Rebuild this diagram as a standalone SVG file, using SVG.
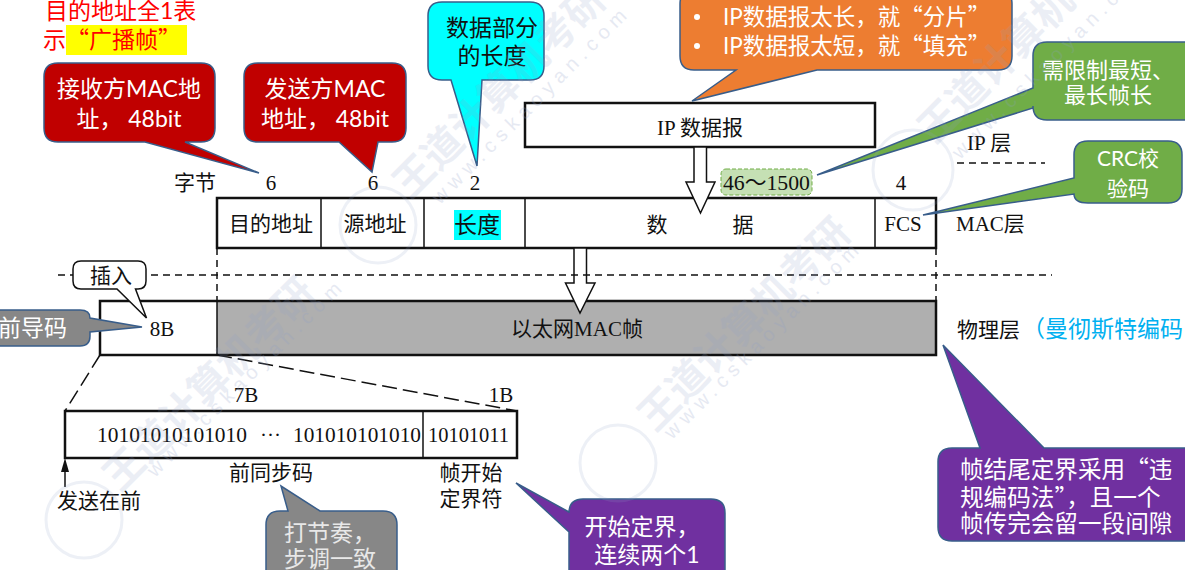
<svg xmlns="http://www.w3.org/2000/svg" width="1185" height="570" viewBox="0 0 1185 570">
<style>
text{font-family:"Liberation Serif","Noto Sans CJK SC",serif;font-size:21px;fill:#111}
.m{text-anchor:middle}
.q{font-family:"Noto Sans CJK SC",sans-serif}
.c text{font-family:Lato,"Noto Sans CJK SC",sans-serif;font-size:23px;fill:#fff}
.c .q{font-family:"Noto Sans CJK SC",sans-serif}
.c path{stroke:#385d8a;stroke-width:1.5}
.red{fill:#c00000}.cy{fill:#00ffff}.or{fill:#ed7d31}.gr{fill:#70ad47}.gy{fill:#878787}.pu{fill:#7030a0}
.box{fill:#fff;stroke:#111;stroke-width:2.5}
.div{stroke:#111;stroke-width:1.5;fill:none}
.dash{stroke:#111;stroke-width:1.5;fill:none;stroke-dasharray:7 5}
.dash2{stroke:#111;stroke-width:1.5;fill:none;stroke-dasharray:15 6}
.hollow{fill:#fff;stroke:#111;stroke-width:1.5}
.wm text{font-family:"Noto Sans CJK SC",sans-serif;font-weight:700;font-size:40px;fill:#8fa0c8;opacity:.17}
.wm .u{font-family:"Liberation Sans",sans-serif;font-weight:400;font-size:20px;letter-spacing:6px;opacity:.22}
.wm circle{fill:none;stroke:#8fa0c8;stroke-width:3;opacity:.16}
</style>

<g id="frame-mac">
<rect class="box" x="217" y="198" width="719" height="50"/>
<path class="div" d="M321 198V248M424 198V248M525 198V248M875 198V248"/>
<rect x="454" y="210" width="47" height="30" fill="#00ffff"/>
<text class="m" x="271" y="231">目的地址</text>
<text class="m" x="375" y="231">源地址</text>
<text class="m" x="477" y="233" style="font-size:23px">长度</text>
<text class="m" x="657" y="232">数</text>
<text class="m" x="743" y="232">据</text>
<text class="m" x="903" y="231">FCS</text>
</g>

<g id="frame-ip">
<rect class="box" x="525" y="103" width="350" height="44"/>
<text class="m" x="700" y="135">IP 数据报</text>
</g>

<g id="frame-phy">
<rect x="217" y="301" width="719" height="54" fill="#afafaf"/>
<rect x="100" y="301" width="836" height="54" fill="none" stroke="#111" stroke-width="2.5"/>
<path class="div" d="M217 301V355"/>
<text class="m" x="162" y="336">8B</text>
<text class="m" x="577" y="336">以太网MAC帧</text>
</g>

<g id="frame-preamble">
<rect class="box" x="65" y="411" width="452" height="47"/>
<path class="div" d="M423 411V458"/>
<text x="97" y="442" textLength="150" lengthAdjust="spacingAndGlyphs">10101010101010</text>
<text x="260" y="442">···</text>
<text x="293" y="442" textLength="128" lengthAdjust="spacingAndGlyphs">101010101010</text>
<text x="428" y="442" textLength="81" lengthAdjust="spacingAndGlyphs">10101011</text>
</g>

<g id="connectors">
<path class="hollow" d="M694 147V182H686L700.500 213L715 182H706.500V147Z"/>
<path class="hollow" d="M574 248V283H565.500L580 313L595 283H586.500V248Z"/>
<path class="dash" d="M58 275H73M151 275H1052"/>
<path class="dash" d="M217 248V301M936 248V301"/>
<path class="dash" d="M957 163H1045"/>
<path class="dash2" d="M100 355L65 411M217 355L517 411"/>
<path d="M65 487V462" stroke="#111" stroke-width="1.500" fill="none"/>
<path d="M65 458L61 472H69Z" fill="#111"/>
</g>

<g id="labels">
<text x="45" y="19" style="font-family:Lato,'Noto Sans CJK SC',sans-serif;font-size:23px;fill:#ff0000">目的地址全1表</text>
<rect x="66" y="25" width="121" height="30" fill="#ffff00"/>
<text x="43" y="48" style="font-family:Lato,'Noto Sans CJK SC',sans-serif;font-size:23px;fill:#ff0000">示</text>
<text class="q" x="66" y="48" style="font-size:23px;fill:#ff0000">“广播帧”</text>
<text x="174" y="190">字节</text>
<text class="m" x="271" y="190">6</text>
<text class="m" x="373" y="190">6</text>
<text class="m" x="475" y="190">2</text>
<text class="m" x="901" y="190">4</text>
<text x="967" y="150">IP 层</text>
<text x="956" y="231">MAC层</text>
<text x="957" y="337">物理层</text>
<text x="1022" y="337" style="fill:#00b0f0;font-size:23px">（曼彻斯特编码</text>
<text class="m" x="246" y="402">7B</text>
<text class="m" x="501" y="402">1B</text>
<text x="57" y="508">发送在前</text>
<text class="m" x="271" y="480">前同步码</text>
<text class="m" x="471" y="480">帧开始</text>
<text class="m" x="471" y="506">定界符</text>
</g>

<g id="callout-dst" class="c">
<path class="red" d="M58 63H201Q215 63 215 77V128Q215 142 201 142H185L259 173L145 142H58Q44 142 44 128V77Q44 63 58 63Z"/>
<text class="m" x="129" y="97">接收方MAC地</text>
<text class="m" x="129" y="127">址， 48bit</text>
</g>
<g id="callout-src" class="c">
<path class="red" d="M258 63H392Q406 63 406 77V128Q406 142 392 142H378L372 172L339 142H258Q244 142 244 128V77Q244 63 258 63Z"/>
<text class="m" x="325" y="97">发送方MAC</text>
<text class="m" x="325" y="127">地址， 48bit</text>
</g>
<g id="callout-len" class="c">
<path class="cy" d="M442 2H530Q544 2 544 16V66Q544 80 530 80H482L477 166L451 80H442Q428 80 428 66V16Q428 2 442 2Z"/>
<text class="m" x="492" y="36" style="fill:#111">数据部分</text>
<text class="m" x="492" y="64" style="fill:#111">的长度</text>
</g>
<g id="callout-ip" class="c">
<path class="or" d="M694 -10H998Q1012 -10 1012 4V56Q1012 70 998 70H817L692 101L736 70H694Q680 70 680 56V4Q680 -10 694 -10Z"/>
<circle cx="697" cy="17" r="3" fill="#fff"/>
<circle cx="697" cy="46" r="3" fill="#fff"/>
<text x="723" y="25" style="font-size:22.500px">IP数据报太长，就<tspan class="q">“</tspan>分片<tspan class="q">”</tspan></text>
<text x="723" y="54" style="font-size:22.500px">IP数据报太短，就<tspan class="q">“</tspan>填充<tspan class="q">”</tspan></text>
</g>
<g id="callout-len-limit" class="c">
<path class="gr" d="M1047 42H1200V120H1047Q1033 120 1033 106V108L817 175L1033 88V56Q1033 42 1047 42Z"/>
<text class="m" x="1108" y="78" style="font-size:22px">需限制最短、</text>
<text class="m" x="1108" y="103" style="font-size:22px">最长帧长</text>
</g>
<rect id="range-label" x="721" y="169" width="91" height="26" rx="5" fill="#c5e0b4" stroke="#70ad47" stroke-width="1" stroke-dasharray="4 2"/>
<text x="723" y="190" style="font-size:22px" textLength="87" lengthAdjust="spacingAndGlyphs">46～1500</text>
<g id="callout-crc" class="c">
<path class="gr" d="M1088 141H1168Q1182 141 1182 155V189Q1182 203 1168 203H1088Q1074 203 1074 194L923 215L1074 178V155Q1074 141 1088 141Z"/>
<text class="m" x="1128" y="166" style="font-size:21px">CRC校</text>
<text class="m" x="1128" y="196" style="font-size:21px">验码</text>
</g>
<g id="callout-insert">
<path d="M81 261H138Q146 261 146 269V281Q146 289 138 289H135.500L146.500 318L117 289H81Q73 289 73 281V269Q73 261 81 261Z" fill="#fff" stroke="#111" stroke-width="1.500"/>
<text class="m" x="111" y="283">插入</text>
</g>
<g id="callout-preamble" class="c">
<path class="gy" d="M-10 310H80Q90 310 90 318L142 327L90 332V336Q90 346 80 346H-10Z"/>
<text x="-2" y="336">前导码</text>
</g>
<g id="callout-sync" class="c">
<path class="gy" d="M280 511H288L281 486L320 511H383Q397 511 397 525V590H266V525Q266 511 280 511Z"/>
<text x="284" y="541" style="fill:#e8e8e8">打节奏，</text>
<text x="284" y="567" style="fill:#e8e8e8">步调一致</text>
</g>
<g id="callout-sfd" class="c">
<path class="pu" d="M583 499H711Q725 499 725 513V590H569V532L516 483L569 512V513Q569 499 583 499Z"/>
<text class="m" x="642" y="535">开始定界，</text>
<text class="m" x="647" y="563">连续两个1</text>
</g>
<g id="callout-end" class="c">
<path class="pu" d="M952 448H980L943 345L1044 448H1200V541H952Q938 541 938 527V462Q938 448 952 448Z"/>
<text x="960" y="478" style="font-size:23.600px">帧结尾定界采用<tspan class="q">“</tspan>违</text>
<text x="960" y="506" style="font-size:23.600px">规编码法<tspan class="q">”</tspan>，且一个</text>
<text x="960" y="532" style="font-size:23.600px">帧传完会留一段间隙</text>
</g>

<g id="watermark" class="wm">
<circle cx="378" cy="225" r="38"/><circle cx="913" cy="170" r="40"/><circle cx="84" cy="520" r="38"/><circle cx="618" cy="463" r="38"/>
<text transform="translate(120 493) rotate(-45)">王道计算机考研</text>
<text transform="translate(410 200) rotate(-45)">王道计算机考研</text>
<text transform="translate(655 433) rotate(-45)">王道计算机考研</text>
<text transform="translate(935 145) rotate(-45)">王道计算机考研</text>
<text class="u" transform="translate(155 478) rotate(-45)">www.cskaoyan.com</text>
<text class="u" transform="translate(440 205) rotate(-45)">www.cskaoyan.com</text>
<text class="u" transform="translate(672 440) rotate(-45)">www.cskaoyan.com</text>
<text class="u" transform="translate(960 160) rotate(-45)">www.cskaoyan.com</text>
</g>
</svg>
